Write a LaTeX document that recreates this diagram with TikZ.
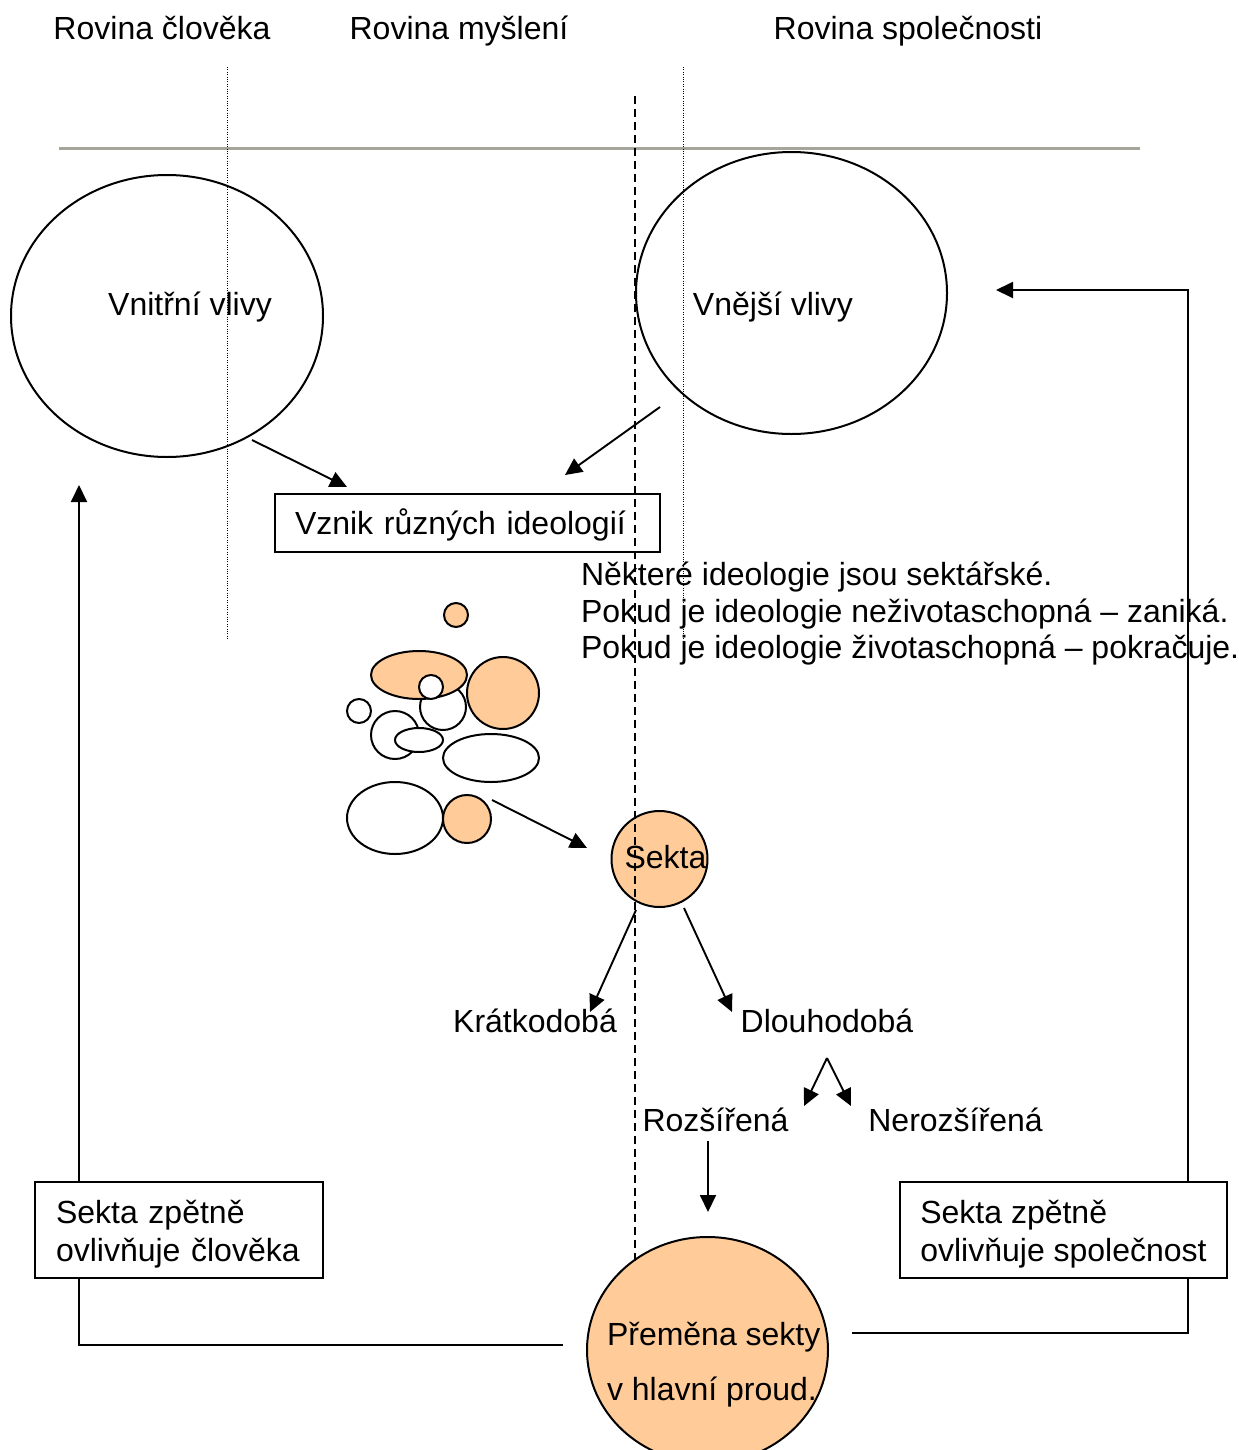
\documentclass[tikz,border=0pt]{standalone}
\usepackage{fontspec}
\setmainfont{Liberation Sans}
\usetikzlibrary{arrows.meta,shapes.geometric}
\definecolor{sektaorange}{RGB}{255,204,153}
\definecolor{hline}{RGB}{165,165,155}
\begin{document}
\begin{tikzpicture}[x=0.5pt,y=-0.5pt,
  every node/.style={font=\fontsize{16pt}{19pt}\selectfont, inner sep=0pt, outer sep=0pt},
  txt/.style={anchor=base},
  txtl/.style={anchor=base west},
  ell/.style={ellipse, draw=black, line width=1pt, inner sep=0pt},
  circ/.style={circle, draw=black, line width=1pt, inner sep=0pt},
  wfill/.style={fill=white},
  ofill/.style={fill=sektaorange},
  conn/.style={draw=black, line width=0.95pt},
  arr/.style={conn, -{Triangle[length=8.5pt,width=8pt]}},
  boxnode/.style={draw=black, line width=1pt, fill=white, align=left},
  dotline/.style={draw=black, line width=0.5pt, dash pattern=on 0.5pt off 0.7pt},
  dashline/.style={draw=black, line width=0.8pt, dash pattern=on 4pt off 2.5pt},
]
\useasboundingbox (0,0) rectangle (1238,1450);

% headers
\node[txt] (h1) at (162,40) {Rovina člověka};
\node[txt] (h2) at (459,40) {Rovina myšlení};
\node[txt] (h3) at (908,40) {Rovina společnosti};

% grey rule
\draw[hline, line width=1.5pt] (59,148) -- (1140,148);

% big ellipses
\node[ell, minimum width=156pt, minimum height=141pt] (vnitr) at (167,316) {};
\node[txt] (vnitrt) at (190,315) {Vnitřní vlivy};
\node[ell, minimum width=155.5pt, minimum height=141pt] (vnej) at (791.5,293) {};
\node[txt] (vnejt) at (773,315) {Vnější vlivy};

% box
\node[draw=black, line width=1pt, minimum width=192.5pt, minimum height=29pt,
      text width=172.5pt, inner xsep=10pt, align=left] (vznik) at (467.5,523) {\rule{0pt}{15pt}Vznik různých ideologií};

\coordinate (a1s) at (252,440);
\coordinate (a1e) at (347,487);
\coordinate (a2s) at (660,407);
\coordinate (a2e) at (565,475);
\draw[arr] (a1s) -- (a1e);
\draw[arr] (a2s) -- (a2e);

% note text
\node[txtl] (n1) at (581,585) {Některé ideologie jsou sektářské.};
\node[txtl] (n2) at (581,622) {Pokud je ideologie neživotaschopná – zaniká.};
\node[txtl] (n3) at (581,658) {Pokud je ideologie životaschopná – pokračuje.};

% cluster of ideologies
\node[circ, ofill, minimum size=12pt] (c1) at (456,615) {};
\node[circ, wfill, minimum size=23pt] (c2) at (443,707) {};
\node[ell, ofill, minimum width=48pt, minimum height=24pt] (c3) at (419,675) {};
\node[circ, wfill, minimum size=12pt] (c4) at (431,687) {};
\node[circ, ofill, minimum size=36pt] (c5) at (503,693) {};
\node[circ, wfill, minimum size=12pt] (c6) at (359,711) {};
\node[circ, wfill, minimum size=24pt] (c7) at (395,735) {};
\node[ell, wfill, minimum width=24pt, minimum height=12pt] (c8) at (419,740) {};
\node[ell, wfill, minimum width=48pt, minimum height=24pt] (c9) at (491,758) {};
\node[ell, wfill, minimum width=48pt, minimum height=36pt] (c10) at (395,818) {};
\node[circ, ofill, minimum size=24pt] (c11) at (467,819) {};

% sekta
\node[circ, ofill, minimum size=48pt] (sekta) at (659.5,859) {};
\node[txt] (sektat) at (665.5,868) {Sekta};
\coordinate (a3s) at (492,800);
\coordinate (a3e) at (587,848);
\draw[arr] (a3s) -- (a3e);

\coordinate (a4s) at (636,910);
\coordinate (a4e) at (590,1012);
\coordinate (a5s) at (684,908);
\coordinate (a5e) at (732,1012);
\draw[arr] (a4s) -- (a4e);
\draw[arr] (a5s) -- (a5e);

\node[txt] (kratko) at (535,1032) {Krátkodobá};
\node[txt] (dlouho) at (827,1032) {Dlouhodobá};

\coordinate (apex) at (827,1058);
\coordinate (tipl) at (804,1106);
\coordinate (tipr) at (851,1106);
\draw[arr] (apex) -- (tipl);
\draw[arr] (apex) -- (tipr);

\node[txt] (rozs) at (715.5,1131) {Rozšířená};
\node[txt] (neroz) at (955.5,1131) {Nerozšířená};

\coordinate (a6s) at (708,1141);
\coordinate (a6e) at (708,1212);
\draw[arr] (a6s) -- (a6e);

% feedback connectors
\coordinate (l1) at (563,1345);
\coordinate (lt) at (79,485);
\draw[arr] (l1) -| (lt);
\coordinate (r1) at (852,1333);
\coordinate (rc) at (1188,290);
\coordinate (rt) at (996,290);
\draw[arr] (r1) -| (rc) -- (rt);

% boxes
\node[boxnode, minimum width=144pt, minimum height=48pt, text width=123pt, inner xsep=10.5pt] (boxl) at (179,1230)
  {\rule{0pt}{16pt}Sekta zpětně\\ovlivňuje člověka};
\node[boxnode, minimum width=163.5pt, minimum height=48pt] (boxr) at (1063.5,1230)
  {\rule{0pt}{16pt}Sekta zpětně\\ovlivňuje společnost};

% premena
\node[ell, ofill, minimum width=120.5pt, minimum height=113pt] (prem) at (707.5,1350) {};
\node[txtl] (prem1) at (607,1345) {Přeměna sekty};
\node[txtl] (prem2) at (607,1400) {v hlavní proud.};

% plane separators
\draw[dotline] (227,67) -- (227,640);
\draw[dotline] (683,67) -- (683,662);
\draw[dashline] (635,96) -- (635,1265);
\end{tikzpicture}
\end{document}
